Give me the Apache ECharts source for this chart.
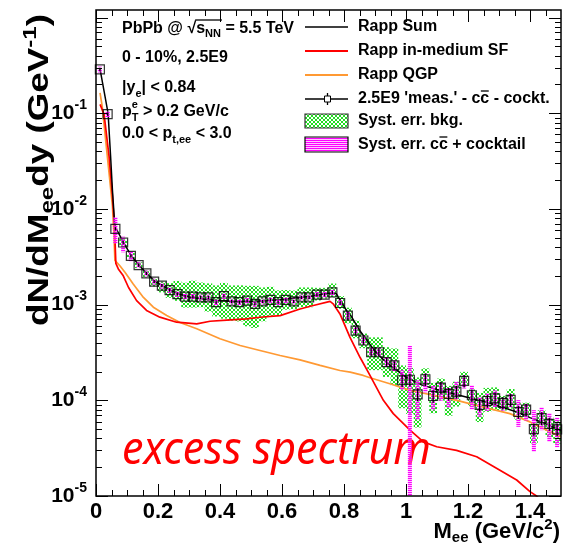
<!DOCTYPE html>
<html><head><meta charset="utf-8">
<script src="https://cdn.jsdelivr.net/npm/echarts/dist/echarts.min.js"></script>
<style>html,body{margin:0;padding:0;background:#fff}#c{width:573px;height:546px}</style>
</head><body><div id="c"></div>
<script>
// ---------- data ----------
const massBins = [0.0125,0.0375,0.0625,0.0875,0.1125,0.1375,0.1625,0.1875,0.2125,0.2375,
 0.2625,0.2875,0.3125,0.3375,0.3625,0.3875,0.4125,0.4375,0.4625,0.4875,
 0.5125,0.5375,0.5625,0.5875,0.6125,0.6375,0.6625,0.6875,0.7125,0.7375,
 0.7625,0.7875,0.8125,0.8375,0.8625,0.8875,0.9125,0.9375,0.9625,0.9875,
 1.0125,1.0375,1.0625,1.0875,1.1125,1.1375,1.1625,1.1875,1.2125,1.2375,
 1.2625,1.2875,1.3125,1.3375,1.3625,1.3875,1.4125,1.4375,1.4625,1.4875];
const excessVals = [2.87e-1,9.8e-2,6.2e-3,4.46e-3,3.24e-3,2.59e-3,2.12e-3,1.74e-3,1.58e-3,1.42e-3,
 1.29e-3,1.21e-3,1.21e-3,1.19e-3,1.19e-3,1.06e-3,1.23e-3,1.08e-3,1.06e-3,1.10e-3,
 1.02e-3,1.08e-3,1.12e-3,1.06e-3,1.12e-3,1.08e-3,1.19e-3,1.19e-3,1.27e-3,1.27e-3,
 1.34e-3,1.04e-3,7.68e-4,5.36e-4,4.22e-4,3.18e-4,3.18e-4,2.51e-4,2.32e-4,1.62e-4,
 1.64e-4,1.155e-4,1.66e-4,1.11e-4,1.36e-4,1.17e-4,1.23e-4,1.60e-4,1.13e-4,8.98e-5,
 9.84e-5,1.05e-4,9.42e-5,1.01e-4,7.55e-5,8.0e-5,4.99e-5,6.5e-5,5.66e-5,4.97e-5];
const statErr = [0.04,0.04,0.04,0.04,0.04,0.04,0.04,0.04,0.04,0.04,
 0.04,0.04,0.04,0.04,0.04,0.04,0.04,0.04,0.04,0.04,
 0.04,0.04,0.04,0.04,0.04,0.04,0.04,0.04,0.04,0.04,
 0.04,0.04,0.10,0.10,0.10,0.10,0.10,0.10,0.10,0.15,
 0.15,0.15,0.15,0.15,0.15,0.15,0.15,0.15,0.15,0.15,
 0.15,0.15,0.15,0.15,0.15,0.15,0.15,0.15,0.15,0.15];
// relative systematic uncertainties (background)
const bkgErrUp = [0,0,0,0.10,0.07,0.07,0.07,0.07,0.10,0.18,
 0.37,0.40,0.47,0.43,0.40,0.50,0.37,0.47,0.50,0.43,
 0.54,0.40,0.37,0.33,0.27,0.30,0.27,0.27,0.18,0.18,
 0.24,0.18,0.21,0.27,0.18,0.43,0.43,0.43,0.50,0.43,
 0.33,0.50,0.30,0.37,0.24,0.21,0.27,0.24,0.15,0.33,
 0.37,0.30,0.18,0.30,0.24,0.18,0.15,0.21,0.18,0.24];
const bkgErrDown = [0,0,0,0.09,0.07,0.07,0.09,0.11,0.15,0.17,
 0.15,0.23,0.23,0.21,0.29,0.29,0.42,0.37,0.37,0.46,
 0.44,0.38,0.32,0.27,0.21,0.17,0.21,0.21,0.13,0.09,
 0.11,0.13,0.17,0.17,0.17,0.35,0.35,0.30,0.38,0.49,
 0.56,0.55,0.13,0.34,0.27,0.41,0.30,0.09,0.23,0.34,
 0.23,0.25,0.17,0.19,0.17,0.17,0.29,0.19,0.27,0.29];
// relative systematic uncertainties (charm + cocktail)
const ccErrUp = [0.07,0.07,0.33,0.15,0.10,0.07,0.07,0.07,0.07,0.07,
 0.07,0.07,0.07,0.07,0.07,0.07,0.07,0.07,0.07,0.07,
 0.07,0.07,0.07,0.07,0.07,0.07,0.07,0.07,0.07,0.07,
 0.07,0.07,0.10,0.10,0.10,0.10,0.10,0.13,0.13,0.27,
 1.26,0.40,0.15,0.27,0.13,0.15,0.27,0.15,0.27,0.21,
 0.21,0.21,0.13,0.15,0.33,0.15,0.58,0.30,0.30,0.33];
const ccErrDown = [0.07,0.07,0.30,0.21,0.13,0.07,0.07,0.07,0.07,0.07,
 0.07,0.07,0.07,0.07,0.07,0.07,0.07,0.07,0.07,0.07,
 0.07,0.07,0.07,0.07,0.07,0.07,0.07,0.07,0.07,0.07,
 0.07,0.07,0.09,0.09,0.09,0.09,0.09,0.11,0.13,0.21,
 0.95,0.46,0.27,0.29,0.27,0.29,0.17,0.17,0.29,0.25,
 0.21,0.19,0.17,0.17,0.30,0.23,0.42,0.25,0.35,0.35];
// Rapp model curves
const sumMass = [0.013,0.026,0.039,0.047,0.053,0.06,0.064,0.09,0.115,0.14,0.165,0.19,0.215,0.24,0.265,0.3,0.35,0.4,0.45,0.5,
 0.55,0.6,0.65,0.7,0.74,0.765,0.775,0.79,0.81,0.825,0.85,0.875,0.9,0.925,0.95,1.0,1.05,1.1,1.15,1.2,1.25,1.3,1.35,1.4,1.45,1.5];
const sumVals = [0.29,0.17,0.1,0.036,0.0158,7.2e-3,6.3e-3,4.4e-3,3.2e-3,2.55e-3,2.1e-3,1.75e-3,1.57e-3,1.42e-3,1.3e-3,1.2e-3,1.14e-3,1.1e-3,1.08e-3,1.08e-3,
 1.1e-3,1.13e-3,1.18e-3,1.23e-3,1.3e-3,1.33e-3,1.3e-3,1.08e-3,8.5e-4,7.4e-4,5.4e-4,4.2e-4,3.25e-4,2.7e-4,2.3e-4,1.75e-4,1.45e-4,1.3e-4,1.18e-4,1.07e-4,9.7e-5,8.7e-5,7.7e-5,6.6e-5,5.7e-5,4.8e-5];
const sfMass = [0.013,0.026,0.042,0.053,0.060,0.064,0.072,0.088,0.105,0.131,0.163,0.206,0.26,0.325,0.368,0.422,0.486,0.529,0.594,0.658,
 0.701,0.755,0.765,0.787,0.819,0.852,0.879,0.927,0.959,1.013,1.056,1.099,1.163,1.228,1.292,1.357,1.4,1.421,1.45];
const sfVals = [0.124,0.098,0.0356,0.0136,6.2e-3,2.7e-3,2.36e-3,2.0e-3,1.51e-3,1.1e-3,8.7e-4,7.4e-4,6.55e-4,6.3e-4,6.7e-4,6.9e-4,7.1e-4,7.38e-4,7.68e-4,9.0e-4,
 9.8e-4,1.08e-3,1.02e-3,8.0e-4,4.57e-4,2.8e-4,1.95e-4,1.0e-4,7.26e-5,4.87e-5,3.68e-5,3.27e-5,3.0e-5,2.57e-5,1.95e-5,1.47e-5,1.11e-5,1.0e-5,8e-6];
const qgpMass = [0.013,0.020,0.031,0.042,0.053,0.058,0.061,0.077,0.094,0.12,0.153,0.185,0.228,0.271,0.325,0.4,0.465,0.529,0.594,0.658,
 0.723,0.787,0.82,0.862,0.884,0.948,1.013,1.088,1.164,1.249,1.335,1.4,1.465,1.5];
const qgpVals = [0.163,0.118,0.053,0.0239,0.0107,5.3e-3,2.9e-3,2.55e-3,2.17e-3,1.64e-3,1.19e-3,9.4e-4,7.7e-4,6.5e-4,5.6e-4,4.4e-4,3.74e-4,3.32e-4,2.94e-4,2.65e-4,
 2.32e-4,2.05e-4,1.97e-4,1.82e-4,1.72e-4,1.49e-4,1.27e-4,1.13e-4,1.0e-4,8.5e-5,7.26e-5,5.95e-5,4.68e-5,4.15e-5];
// ticks
const xTickMajor = [0,0.2,0.4,0.6,0.8,1.0,1.2,1.4];
const xTickMinor = [0.05,0.1,0.15,0.25,0.3,0.35,0.45,0.5,0.55,0.65,0.7,0.75,0.85,0.9,0.95,1.05,1.1,1.15,1.25,1.3,1.35,1.45];
const yTickMajor = [1e-5,1e-4,1e-3,1e-2,1e-1,1];
const yMinorMultipliers = [2,3,4,5,6,7,8,9];
const binHalfWidth = 0.0125;
const ccHalfWidth = 0.0065;

// ---------- helpers ----------
const FONT = '"Liberation Sans", Arial, Helvetica, sans-serif';
const mctx = document.createElement('canvas').getContext('2d');
function tw(t, size) { mctx.font = 'bold ' + size + 'px ' + FONT; return mctx.measureText(t).width; }
function txt(x, y, t, size, extra) {
  return Object.assign({type:'text', x:x, y:y, z:50, style:{text:t, font:'bold '+size+'px '+FONT, fill:'#000',
    textAlign:'left', textVerticalAlign:'middle', align:'left', verticalAlign:'middle'}}, extra||{});
}
// pieces: [text, size, dy, noAdvance]
function run(x0, y0, pieces) {
  const els = []; let x = x0; const pos = [];
  pieces.forEach(p => {
    const [t, size, dy, noAdv] = p;
    pos.push(x);
    els.push(txt(x, y0 + (dy||0), t, size));
    if (!noAdv) x += tw(t, size);
  });
  return {els, end:x, pos};
}
function hline(x1, x2, y, color, w) {
  return {type:'line', z:50, shape:{x1:x1, y1:y, x2:x2, y2:y}, style:{stroke:color, lineWidth:w||1.5}};
}
function makeGreen() {
  const c = document.createElement('canvas'); c.width = 4; c.height = 4;
  const g = c.getContext('2d'); g.strokeStyle = '#22dd22'; g.lineWidth = 1;
  g.beginPath(); g.moveTo(0,0); g.lineTo(4,4); g.moveTo(4,0); g.lineTo(0,4); g.stroke();
  return c;
}
function makeMagenta() {
  const c = document.createElement('canvas'); c.width = 2; c.height = 2;
  const g = c.getContext('2d'); g.fillStyle = '#ff00ff'; g.fillRect(0,0,2,1);
  g.fillStyle = 'rgba(255,140,255,0.5)'; g.fillRect(0,1,2,1);
  return c;
}
const greenPat = {image: makeGreen(), repeat: 'repeat'};
const magPat = {image: makeMagenta(), repeat: 'repeat'};

// ---------- series data ----------
const bkgData = [], ccData = [], statData = [], ptData = [];
massBins.forEach((m, i) => {
  const v = excessVals[i];
  if (bkgErrUp[i] > 0 || bkgErrDown[i] > 0) bkgData.push([m, v*(1-bkgErrDown[i]), v*(1+bkgErrUp[i])]);
  ccData.push([m, v*(1-ccErrDown[i]), v*(1+ccErrUp[i])]);
  statData.push([m, v*(1-statErr[i]), v*(1+statErr[i])]);
  ptData.push([m, v]);
});
const pair = (xs, ys) => xs.map((x, i) => [x, ys[i]]);

function boxRender(half, fill) {
  return function(params, api) {
    const x = api.value(0), lo = api.value(1), hi = api.value(2);
    const p1 = api.coord([x - half, hi]), p2 = api.coord([x + half, lo]);
    return {type:'rect', shape:{x:p1[0], y:p1[1], width:p2[0]-p1[0], height:p2[1]-p1[1]}, style:{fill:fill}};
  };
}
function statRender(params, api) {
  const x = api.value(0), lo = api.value(1), hi = api.value(2);
  const p1 = api.coord([x, hi]), p2 = api.coord([x, lo]);
  return {type:'line', shape:{x1:p1[0], y1:p1[1], x2:p2[0], y2:p2[1]}, style:{stroke:'#000', lineWidth:1.3}};
}
function tickRender(params, api) {
  const cs = params.coordSys; const L = cs.x, T = cs.y, R = cs.x + cs.width, B = cs.y + cs.height;
  const ch = [];
  const ln = (x1,y1,x2,y2) => ch.push({type:'line', shape:{x1,y1,x2,y2}, style:{stroke:'#000', lineWidth:1}});
  xTickMajor.forEach(v => { const x = Math.round(api.coord([v, 1e-3])[0]) + 0.5; ln(x,B,x,B-12); ln(x,T,x,T+12); });
  xTickMinor.forEach(v => { const x = Math.round(api.coord([v, 1e-3])[0]) + 0.5; ln(x,B,x,B-6); ln(x,T,x,T+6); });
  yTickMajor.forEach(v => { const y = Math.round(api.coord([0.5, v])[1]) + 0.5; if (y < T) return; ln(L,y,L+12,y); ln(R,y,R-12,y); });
  yTickMajor.forEach(d => yMinorMultipliers.forEach(k => {
    const val = d * k; const y = Math.round(api.coord([0.5, val])[1]) + 0.5;
    if (y < T || y > B) return; ln(L,y,L+6,y); ln(R,y,R-6,y);
  }));
  ch.push({type:'rect', shape:{x:L, y:T, width:cs.width, height:cs.height}, style:{fill:'none', stroke:'#000', lineWidth:1.5}});
  return {type:'group', children:ch};
}

// ---------- text / legend graphics ----------
const G = [];
const S = 16;
// top-left block
{
  const r1 = run(122, 29, [['PbPb @ ', S, 0], ['\u221A', S, 0], ['s', S, 0], ['NN', 11, 5], [' = 5.5 TeV', S, 0]]);
  G.push(...r1.els);
  G.push(hline(r1.pos[2] - 1, r1.pos[4] + 1, 20, '#000', 1.3));
  G.push(...run(122, 58, [['0 - 10%, 2.5E9', S, 0]]).els);
  G.push(...run(122, 88, [['|y', S, 0], ['e', 11, 6], ['| < 0.84', S, 0]]).els);
  G.push(...run(122, 112, [['p', S, 0], ['e', 11, -7, true], ['T', 11, 6], [' > 0.2 GeV/c', S, 0]]).els);
  G.push(...run(122, 134, [['0.0 < p', S, 0], ['t,ee', 11, 6], [' < 3.0', S, 0]]).els);
}
// legend
{
  const LX1 = 305, LX2 = 348, TX = 358;
  G.push(hline(LX1, LX2, 27, '#000', 1.5));
  G.push(...run(TX, 27, [['Rapp Sum', S, 0]]).els);
  G.push(hline(LX1, LX2, 51, '#ff0000', 1.8));
  G.push(...run(TX, 51, [['Rapp in-medium SF', S, 0]]).els);
  G.push(hline(LX1, LX2, 75, '#ff9933', 1.8));
  G.push(...run(TX, 75, [['Rapp QGP', S, 0]]).els);
  G.push(hline(LX1, LX2, 99, '#000', 1.5));
  G.push({type:'line', z:50, shape:{x1:327.5, y1:93, x2:327.5, y2:105}, style:{stroke:'#000', lineWidth:1.3}});
  G.push({type:'rect', z:51, shape:{x:324.5, y:96, width:6, height:6}, style:{fill:'#fff', stroke:'#000', lineWidth:1}});
  const r4 = run(TX, 99, [["2.5E9 'meas.' - c", S, 0], ['c', S, 0], [' - cockt.', S, 0]]);
  G.push(...r4.els);
  G.push(hline(r4.pos[1] + 0.5, r4.pos[2] - 0.5, 91, '#000', 1.3));
  G.push({type:'rect', z:50, shape:{x:LX1, y:114, width:LX2-LX1, height:14}, style:{fill:greenPat, stroke:'#333', lineWidth:1.2}});
  G.push(...run(TX, 121, [['Syst. err. bkg.', S, 0]]).els);
  G.push({type:'rect', z:50, shape:{x:LX1, y:137, width:LX2-LX1, height:15}, style:{fill:magPat, stroke:'#000', lineWidth:1.2}});
  const r6 = run(TX, 145, [['Syst. err. c', S, 0], ['c', S, 0], [' + cocktail', S, 0]]);
  G.push(...r6.els);
  G.push(hline(r6.pos[1] + 0.5, r6.pos[2] - 0.5, 137, '#000', 1.3));
}
// axis titles
{
  const XS = 22, xs = 15;
  const pieces = [['M', XS, 0], ['ee', xs, 6], [' (GeV/c', XS, 0], ['2', xs, -7], [')', XS, 0]];
  const w = run(0, 0, pieces).end;
  G.push(...run(560 - w, 532, pieces).els);
  const YS = 29, ys = 19;
  const yp = [['dN/dM', YS, 0], ['ee', ys, 8], ['dy (GeV', YS, 0], ['-1', ys, -9], [')', YS, 0]];
  const yr = run(0, 0, yp);
  const targetLen = 312;
  G.push({type:'group', x:40, y:14 + targetLen, rotation:Math.PI/2, scaleX:targetLen / yr.end, children:yr.els});
}
// big red label
G.push({type:'text', x:122, y:451, z:1, scaleY:1.08, style:{text:'excess spectrum', font:'italic 43px "Noto Sans", "Open Sans", sans-serif',
  fill:'#ff0000', textAlign:'left', textVerticalAlign:'middle', align:'left', verticalAlign:'middle'}});

// ---------- chart ----------
const chart = echarts.init(document.getElementById('c'), null, {renderer:'canvas'});
chart.setOption({
  animation:false,
  backgroundColor:'#fff',
  grid:{left:96, right:12, top:10, bottom:50},
  xAxis:{type:'value', min:0, max:1.5, interval:0.2,
    axisLine:{show:false}, axisTick:{show:false}, splitLine:{show:false},
    axisLabel:{fontFamily:FONT, fontWeight:'bold', fontSize:22, color:'#000', margin:5,
      formatter: v => (v > 1.45 ? '' : String(Math.round(v*10)/10))}},
  yAxis:{type:'log', logBase:10, min:1e-5, max:1.2,
    axisLine:{show:false}, axisTick:{show:false}, splitLine:{show:false},
    axisLabel:{margin:9, formatter: v => { if (v > 0.5) return ''; const e = Math.round(Math.log10(v)); return '{b|10}{s|' + e + '}'; },
      rich:{b:{fontFamily:FONT, fontWeight:'bold', fontSize:21, color:'#000'},
            s:{fontFamily:FONT, fontWeight:'bold', fontSize:14, color:'#000', padding:[0,0,16,0]}}}},
  graphic:G,
  series:[
    {type:'custom', name:'Syst. err. bkg.', z:3, clip:true, renderItem:boxRender(binHalfWidth, greenPat), data:bkgData, silent:true},
    {type:'line', name:'Rapp QGP', z:4, data:pair(qgpMass, qgpVals), showSymbol:false, lineStyle:{color:'#ff9933', width:1.7}, clip:true},
    {type:'line', name:'Rapp in-medium SF', z:4, data:pair(sfMass, sfVals), showSymbol:false, lineStyle:{color:'#ff0000', width:1.7}, clip:true},
    {type:'line', name:'Rapp Sum', z:5, data:pair(sumMass, sumVals), showSymbol:false, lineStyle:{color:'#000', width:1.5}, clip:true},
    {type:'custom', name:'Syst. err. cc + cocktail', z:6, clip:true, renderItem:boxRender(ccHalfWidth, magPat), data:ccData, silent:true},
    {type:'custom', name:'stat', z:7, clip:true, renderItem:statRender, data:statData, silent:true},
    {type:'scatter', name:"2.5E9 'meas.' - cc - cockt.", z:8, data:ptData, symbol:'rect', symbolSize:9,
      itemStyle:{color:'rgba(0,0,0,0)', borderColor:'#000', borderWidth:1.2}, clip:true},
    {type:'custom', name:'frame', z:9, clip:false, renderItem:tickRender, data:[[0.5, 1e-3]], silent:true}
  ]
});
</script></body></html>
